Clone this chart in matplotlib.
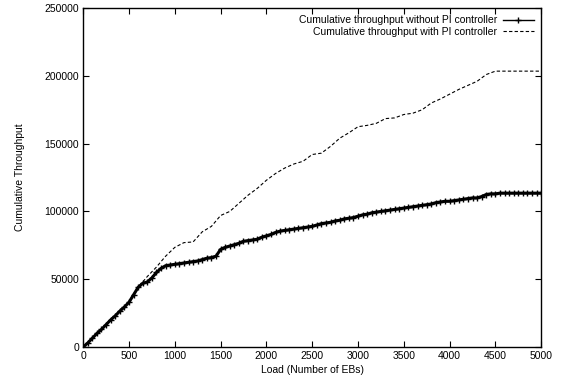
import matplotlib
matplotlib.use("Agg")
import matplotlib.pyplot as plt
from matplotlib.lines import Line2D

plt.rcParams['font.family'] = ['Liberation Sans', 'DejaVu Sans']

# cumulative throughput without PI controller (every 50 EBs)
load_no_pi = list(range(0, 5001, 50))
thr_no_pi = [0, 3000, 6500, 10000, 13000, 16500, 20000, 23000, 26500, 29500,
             33000, 38500, 44000, 47000, 48000, 51000, 55000, 58000, 60000, 60500,
             61000, 61500, 62000, 62500, 63000, 63500, 64500, 65500, 66000, 67000,
             72000, 73500, 74500, 75500, 76500, 78000, 78500, 79000, 79500, 81000,
             82000, 83000, 84500, 85500, 86000, 86500, 87000, 87500, 88000, 88500,
             89000, 90000, 91000, 91500, 92000, 93000, 93500, 94500, 95000, 95500,
             96500, 97500, 98000, 99000, 99500, 100000, 100500, 101000, 101500, 102000,
             102500, 103000, 103500, 104000, 104500, 105000, 105500, 106500, 107000, 107500,
             107500, 108000, 108500, 109000, 109500, 110000, 110000, 111000, 112500, 113000,
             113000, 113500, 113500, 113500, 113500, 113500, 113500, 113500, 113500, 113500,
             113500]

# cumulative throughput with PI controller (every 100 EBs)
load_pi = list(range(0, 5001, 100))
thr_pi = [0, 6500, 13000, 20000, 26500, 33000, 44000, 52000, 59000, 67000,
          73500, 77000, 77500, 85000, 89000, 97000, 100000, 106000, 112000, 117000,
          123000, 128000, 132000, 135000, 137000, 142000, 143000, 148000, 154000, 158000,
          162500, 163500, 165000, 168500, 169000, 171500, 172500, 175000, 180000, 183000,
          186500, 190000, 193000, 196000, 201000, 203500, 203500, 203500, 203500, 203500,
          203500]

fig = plt.figure(figsize=(5.62, 3.86), dpi=100)
ax = fig.add_axes([0.148, 0.101, 0.815, 0.878])

ax.plot(load_no_pi, thr_no_pi, color='black', lw=2.2, marker='+', ms=4.5, mew=1.0)
ax.plot(load_pi, thr_pi, color='black', lw=0.8, dashes=(3, 2))

ax.set_xlim(0, 5000)
ax.set_ylim(0, 250000)
ax.set_xticks(range(0, 5001, 500))
ax.set_yticks(range(0, 250001, 50000))
ax.tick_params(direction='in', top=True, right=True, length=4, width=0.8, labelsize=7.5, pad=3)
for s in ax.spines.values():
    s.set_linewidth(1.0)

ax.set_xlabel('Load (Number of EBs)', fontsize=7.5, labelpad=3)
ax.set_ylabel('Cumulative Throughput', fontsize=7.5, labelpad=14)

handles = [Line2D([], [], color='black', lw=1.0, marker='+', ms=5, mew=1.0),
           Line2D([], [], color='black', lw=0.8, dashes=(3, 2))]
labels = ['Cumulative throughput without PI controller',
          'Cumulative throughput with PI controller']
ax.legend(handles, labels, loc='upper right', frameon=False, markerfirst=False, fontsize=7.5,
          handlelength=3.0, handletextpad=0.5, labelspacing=0.15,
          borderaxespad=0.3)

fig.savefig('out.png', dpi=100)
